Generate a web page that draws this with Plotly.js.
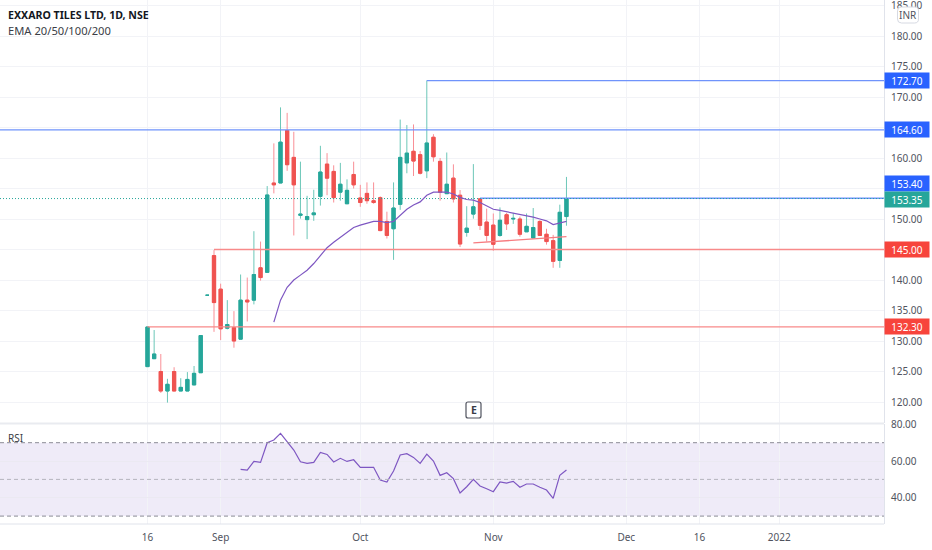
<!DOCTYPE html>
<html><head><meta charset="utf-8">
<script src="https://cdn.plot.ly/plotly-3.0.1.min.js"></script>
<style>html,body{margin:0;padding:0;background:#fff}#c{width:932px;height:550px}</style></head>
<body><div id="c"></div>
<script>
const opens =[125.8,127.1,125.0,121.8,125.0,121.8,121.8,122.8,124.8,137.5,144.0,138.5,132.1,132.2,130.3,136.7,136.7,142.0,141.25,155.9,155.9,164.5,160.1,150.6,149.9,150.7,153.7,159.0,157.8,154.4,152.5,157.3,153.45,154.2,153.0,153.5,149.6,148.4,152.4,159.2,161.1,160.55,157.9,163.4,159.45,154.15,156.7,153.9,147.8,150.8,153.3,149.5,149.0,147.3,150.7,150.0,150.0,147.9,146.9,149.6,147.5,146.45,143.2,150.4];
const closes=[132.3,127.87,121.8,122.9,121.8,122.4,123.7,124.7,130.9,137.5,136.3,132.0,132.7,130.0,136.7,136.4,140.9,140.4,153.94,155.6,162.6,158.9,155.6,150.8,150.4,151.0,157.7,156.7,153.5,155.7,154.7,155.6,152.7,153.0,152.7,148.1,147.3,151.8,160.1,160.8,159.5,157.5,162.46,160.2,154.4,155.7,153.3,145.9,148.5,152.0,148.96,147.3,145.85,149.8,149.2,150.1,147.5,148.8,148.6,147.3,146.3,143.06,151.1,153.35];
const highs =[132.3,131.8,127.87,123.8,125.7,123.9,124.9,125.9,130.9,137.5,144.9,139.4,136.7,134.9,140.9,140.4,148.0,146.3,155.4,162.4,168.3,167.4,164.3,159.4,153.8,154.8,162.0,160.8,158.8,159.2,156.5,159.4,155.6,156.0,156.0,153.7,151.2,156.0,166.3,165.4,165.5,161.15,172.7,163.9,160.0,160.9,158.96,154.75,152.1,159.0,153.3,151.7,150.9,151.9,151.0,151.0,150.4,150.9,151.8,149.8,148.4,147.4,152.35,156.9];
const lows  =[125.8,127.1,121.5,119.9,121.8,121.8,121.8,122.8,124.8,137.5,131.5,130.15,131.9,128.9,130.3,133.2,136.0,139.9,141.25,154.2,155.9,157.9,147.3,150.06,146.7,149.7,152.2,153.9,152.7,153.0,152.5,155.0,152.0,152.5,152.5,148.0,146.8,143.3,151.5,157.5,157.05,157.3,156.7,159.4,153.0,154.15,152.7,145.4,147.1,150.05,148.2,146.3,144.8,147.1,148.2,149.2,147.1,147.9,146.9,147.3,145.8,142.0,142.0,148.9];
const emaStart=19;
const ema=[133.1,136.7,138.8,140.0,140.8,141.6,142.7,144.1,145.3,146.2,147.0,147.8,148.6,149.0,149.35,149.6,149.6,149.4,149.6,150.65,151.6,152.3,152.8,153.9,154.4,154.4,154.4,154.1,153.55,153.2,153.1,152.7,152.1,151.6,151.4,151.2,151.0,150.8,150.5,150.3,150.0,149.7,149.1,149.3,149.6];
const rsiStart=14;
const rsi=[55.5,55.1,59.8,59.3,70.0,71.5,75.1,70.5,66.0,59.6,58.7,59.3,64.7,63.6,59.5,61.5,59.8,60.7,56.6,56.6,56.6,49.7,48.6,54.6,63.3,64.0,62.0,58.7,63.8,60.0,52.2,53.65,50.4,42.6,46.0,50.0,46.4,44.9,43.3,48.6,48.0,48.9,45.7,47.5,47.5,45.7,44.2,39.7,52.2,55.1];
const trendIdx=[49,63], trendPrice=[146.07,147.1];
const tickIdx=[0,11,32,52,72,83,95];
const tickLabels=['16','Sep','Oct','Nov','Dec','16','2022'];
const levelPrices=[172.7,164.6,153.4,145.0,132.3];
const levelStart=[42,-23,50,10,0];
const levelColors=['#6f93fb','#6f93fb','#6f93fb','#f88a8a','#f88a8a'];
const tagColors=['#2962ff','#2962ff','#2962ff','#f7443c','#f7443c'];
const tagTexts=['172.70','164.60','153.40','145.00','132.30'];
const lastPrice=153.35, lastTag='153.35';
const rsiLevels=[70,50,30];
const priceTicks=[120,125,130,135,140,145,150,155,160,165,170,175,180,185];
const hiddenPriceLabels=[145,155,165];
const rsiTicks=[40,60,80];

const xMin=-22.18, xMax=110.75;
const W=932,H=550;
const FONT='"Noto Sans", sans-serif', TXT='#50535e', GRID='#f2f3f7', TICK=10;
const GREEN='#26a69a', RED='#ef5350';
const px=v=>v/W, py=v=>1-v/H;
const idx=closes.map((_,i)=>i);
const traces=[];
levelPrices.forEach((p,i)=>traces.push({type:'scatter',mode:'lines',x:[levelStart[i],xMax],y:[p,p],line:{color:levelColors[i],width:1.3},hoverinfo:'skip',showlegend:false}));
traces.push({type:'scatter',mode:'lines',x:[xMin,xMax],y:[lastPrice,lastPrice],line:{color:GREEN,width:1,dash:'1px,2px'},hoverinfo:'skip',showlegend:false});
// pale wicks first, solid bodies on top
traces.push({type:'candlestick',x:idx,open:opens,high:highs,low:lows,close:closes,whiskerwidth:0,
  increasing:{line:{color:'#6cc7b8',width:1},fillcolor:GREEN},
  decreasing:{line:{color:'#f98f96',width:1},fillcolor:RED},showlegend:false,hoverinfo:'skip'});
traces.push({type:'candlestick',x:idx,open:opens,close:closes,
  high:opens.map((o,i)=>Math.max(o,closes[i])),low:opens.map((o,i)=>Math.min(o,closes[i])),whiskerwidth:0,
  increasing:{line:{color:GREEN,width:1},fillcolor:GREEN},
  decreasing:{line:{color:RED,width:1},fillcolor:RED},showlegend:false,hoverinfo:'skip'});
traces.push({type:'scatter',mode:'lines',x:ema.map((_,i)=>i+emaStart),y:ema,line:{color:'#7e57c2',width:1.2},hoverinfo:'skip',showlegend:false});
traces.push({type:'scatter',mode:'lines',x:trendIdx,y:trendPrice,line:{color:'#f77c80',width:1.3},hoverinfo:'skip',showlegend:false});
traces.push({type:'scatter',mode:'lines',x:rsi.map((_,i)=>i+rsiStart),y:rsi,yaxis:'y2',line:{color:'#7e57c2',width:1.2},hoverinfo:'skip',showlegend:false});

const shapes=[
 {type:'rect',xref:'x',yref:'y2',x0:xMin,x1:xMax,y0:rsiLevels[2],y1:rsiLevels[0],fillcolor:'rgba(126,87,194,0.12)',line:{width:0},layer:'below'},
 {type:'line',xref:'paper',yref:'paper',x0:0,x1:px(884),y0:py(423.5),y1:py(423.5),line:{color:'#e9ebf0',width:2}},
 {type:'line',xref:'paper',yref:'paper',x0:0,x1:px(884),y0:py(524),y1:py(524),line:{color:'#e0e3eb',width:1}},
 {type:'path',xref:'paper',yref:'paper',path:rr(897.5,7,918.5,23,4),fillcolor:'#ffffff',line:{color:'#d6d9e2',width:1},layer:'above'},
 {type:'path',xref:'paper',yref:'paper',path:rr(466,402,481,418,2),fillcolor:'#ffffff',line:{color:'#50535e',width:1.2},layer:'above'}
];
rsiLevels.forEach((v,i)=>shapes.push({type:'line',xref:'x',yref:'y2',x0:xMin,x1:xMax,y0:v,y1:v,line:{color:i==1?'#b5b5bd':'#8a8c95',width:1,dash:'4px,3px'}}));
function rr(x0,y0,x1,y1,r){
  const X=v=>(v/W).toFixed(5), Y=v=>(1-v/H).toFixed(5);
  const rx=r, ry=r;
  return `M${X(x0+rx)},${Y(y0)} L${X(x1-rx)},${Y(y0)} Q${X(x1)},${Y(y0)} ${X(x1)},${Y(y0+ry)} L${X(x1)},${Y(y1-ry)} Q${X(x1)},${Y(y1)} ${X(x1-rx)},${Y(y1)} L${X(x0+rx)},${Y(y1)} Q${X(x0)},${Y(y1)} ${X(x0)},${Y(y1-ry)} L${X(x0)},${Y(y0+ry)} Q${X(x0)},${Y(y0)} ${X(x0+rx)},${Y(y0)} Z`;
}
function tag(y,text,bg,shift){return {xref:'paper',yref:'y',x:px(884),y:y,xanchor:'left',yanchor:'middle',text:text,showarrow:false,bgcolor:bg,width:43,height:14,borderpad:0.5,yshift:shift||0,font:{family:FONT,size:TICK,color:'#fff'},align:'center'};}
const annotations=levelPrices.map((p,i)=>tag(p,tagTexts[i],tagColors[i],i==2?15:0));
annotations.push(tag(lastPrice,lastTag,GREEN,-1));
function lab(x,y,text,opts){return Object.assign({xref:'paper',yref:'paper',x:px(x),y:py(y),xanchor:'left',yanchor:'middle',text:text,showarrow:false,font:{family:FONT,size:12,color:'#131722'}},opts||{});}
annotations.push(lab(6,14.5,'<b>EXXARO TILES LTD, 1D, NSE</b>',{font:{family:FONT,size:10.6,color:'#131722'}}));
annotations.push(lab(6,30,'EMA 20/50/100/200',{font:{family:FONT,size:11.2,color:'#3a3d46'}}));
annotations.push(lab(6,438,'RSI',{font:{family:FONT,size:10,color:'#3a3d46'}}));
annotations.push(lab(908,14.5,'INR',{xanchor:'center',font:{family:FONT,size:10,color:'#50535e'}}));
annotations.push(lab(473.5,410,'<b>E</b>',{xanchor:'center',font:{family:FONT,size:10.5,color:'#3a3d46'}}));

const layout={width:W,height:H,margin:{l:0,r:0,t:0,b:0},paper_bgcolor:'#fff',plot_bgcolor:'#fff',showlegend:false,dragmode:false,hovermode:false,
 xaxis:{domain:[0,px(884)],range:[xMin,xMax],anchor:'y2',tickmode:'array',tickvals:tickIdx,ticktext:tickLabels,showgrid:true,gridcolor:GRID,gridwidth:1,zeroline:false,rangeslider:{visible:false},tickfont:{family:FONT,size:TICK,color:TXT},ticks:'outside',ticklen:4,tickcolor:'rgba(0,0,0,0)',showline:false},
 yaxis:{domain:[py(423),1],range:[180-(423-36)/6.1,180+36/6.1],side:'right',anchor:'x',tickmode:'array',tickvals:priceTicks,ticktext:priceTicks.map(v=>hiddenPriceLabels.includes(v)?'':v.toFixed(2)),ticklabeloverflow:'allow',showgrid:true,gridcolor:GRID,zeroline:false,tickfont:{family:FONT,size:TICK,color:TXT},ticks:'outside',ticklen:4,tickcolor:'rgba(0,0,0,0)',showline:true,linecolor:'#e0e3eb',linewidth:1},
 yaxis2:{domain:[py(524),py(424)],range:[70-(524-442.7)/1.835,70+(442.7-424)/1.835],side:'right',anchor:'x',tickmode:'array',tickvals:rsiTicks,ticktext:rsiTicks.map(v=>v.toFixed(2)),ticklabeloverflow:'allow',showgrid:true,gridcolor:'#ebe9f2',zeroline:false,tickfont:{family:FONT,size:TICK,color:TXT},ticks:'outside',ticklen:4,tickcolor:'rgba(0,0,0,0)',showline:true,linecolor:'#e0e3eb',linewidth:1},
 shapes:shapes,annotations:annotations};
Plotly.newPlot('c',traces,layout,{displayModeBar:false,staticPlot:true});
</script></body></html>
